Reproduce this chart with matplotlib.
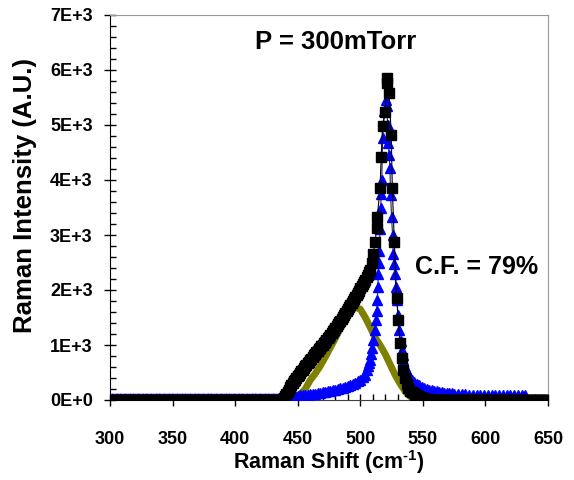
import numpy as np
import matplotlib
matplotlib.use('Agg')
import matplotlib.pyplot as plt
from matplotlib.ticker import MultipleLocator

plt.rcParams['font.family'] = ['Liberation Sans', 'DejaVu Sans']
plt.rcParams['font.weight'] = 'bold'
plt.rcParams['mathtext.fontset'] = 'custom'
plt.rcParams['mathtext.bf'] = 'Liberation Sans:bold'
plt.rcParams['mathtext.rm'] = 'Liberation Sans:bold'

# measured spectrum (black squares), peak region
meas_x = [438, 439, 440, 441, 442, 443, 444, 445, 446, 447, 448, 449, 450, 451, 452,
          453, 454, 455, 456, 457, 458, 459, 460, 461, 462, 463, 464, 465, 466, 467,
          468, 469, 470, 471, 472, 473, 474, 475, 476, 477, 478, 479, 480, 481, 482,
          483, 484, 485, 486, 487, 488, 489, 490, 491, 492, 493, 494, 495, 496, 497,
          498, 499, 500, 501, 502, 503, 504, 505, 506, 507, 508, 509.1, 510.4,
          511.8, 513.1, 513.6, 515.8, 516.7, 517.8, 520.0, 521.0, 521.5,
          523.1, 524.7, 525.6, 527.2, 529.1, 530.5, 531.7, 533.1, 534.4, 535.8,
          537.1, 538.5, 540, 541.3, 542.6, 543.9, 545.2, 546.5, 547.8, 549.1, 550.4,
          551.7, 553, 554.3, 555.6]
meas_y = [0, 30, 70, 110, 150, 190, 230, 270, 310, 340, 370, 400, 430, 460, 490,
          520, 550, 580, 610, 640, 665, 695, 720, 750, 780, 810, 835, 865, 890, 920,
          945, 975, 1000, 1030, 1060, 1090, 1120, 1150, 1185, 1215, 1250, 1280, 1310, 1345, 1375,
          1410, 1440, 1475, 1510, 1545, 1580, 1615, 1650, 1690, 1725, 1760, 1800, 1835, 1870, 1910,
          1950, 1990, 2030, 2070, 2110, 2150, 2190, 2230, 2270, 2320, 2360, 2490, 2650,
          2880, 3120, 3330, 3850, 4420, 4990, 5240, 5760, 5850,
          5580, 4820, 3850, 2870, 1850, 1450, 1030, 760, 545, 400,
          300, 210, 160, 140, 120, 100, 82, 66, 52, 40, 32,
          25, 18, 12, 8]
# flat baseline of the measured spectrum
base_left_x = np.arange(300, 437, 1.3)
base_right_x = np.arange(557, 651, 1.3)
base_left_y = [0] * len(base_left_x)
base_right_y = [0] * len(base_right_x)

# crystalline component (blue triangles)
cryst_x = [440, 442, 444, 446, 448, 450, 452, 454, 456, 458, 460, 462, 464, 466, 468,
           470, 472, 474, 476, 478, 480, 482, 484, 486, 488, 490, 492, 494, 496, 498,
           500, 502, 503.5, 505, 506, 507, 507.8, 508.6, 509.4, 510.4, 511.5, 512.6,
           513.1, 513.6, 514.0, 514.4, 514.8, 515.2, 515.8, 516.3, 516.8, 517.2, 517.8,
           518.5, 519.3, 520.3, 521.2, 521.8, 522.4, 523.1, 523.7, 524.2, 525, 525.8,
           526.3, 527, 527.7, 528.4, 529.1, 530.1, 531.2, 532.2, 533.1, 533.8, 534.4,
           535.7, 537, 538.5, 540, 541.5, 543, 545, 547, 549, 551, 553, 555, 557, 559,
           561, 563, 565, 567, 569, 571, 573, 575, 578, 581, 584, 587, 590, 593, 596,
           599, 602, 605, 608, 611, 614, 617, 620, 623, 626, 629, 632]
cryst_y = [60, 65, 68, 72, 76, 80, 85, 90, 95, 100, 105, 112, 118, 125, 132,
           140, 148, 157, 166, 176, 187, 198, 210, 222, 236, 250, 266, 285, 310, 340,
           370, 410, 460, 540, 610, 680, 730, 830, 950, 1090, 1270, 1450,
           1620, 1820, 2050, 2300, 2500, 2700, 3100, 3490, 3750, 4000, 4760,
           5000, 5250, 5450, 5350, 5000, 4670, 4450, 4220, 3730, 3330, 3000,
           2650, 2480, 2300, 2050, 1820, 1550, 1270, 1080, 910, 810, 730,
           600, 520, 460, 400, 360, 330, 290, 265, 240, 220, 200, 185, 175, 165,
           157, 148, 140, 135, 130, 125, 120, 116, 112, 108, 104, 100, 98, 96, 95,
           94, 93, 92, 91, 91, 90, 90, 90, 90, 90, 90, 90]
cryst_base_x = np.arange(300, 440, 1.3)
cryst_base_y = [55] * len(cryst_base_x)

# amorphous component (olive)
amor_x = [440, 444, 448, 452, 456, 460, 464, 468, 472, 476, 480, 484, 488, 492,
          496, 500, 504, 508, 512, 516, 520, 524, 528, 532, 536, 540]
amor_y = [30, 50, 70, 100, 200, 360, 480, 620, 780, 950, 1120, 1300, 1450, 1600,
          1690, 1650, 1500, 1320, 1130, 990, 830, 640, 450, 290, 150, 60]

x_ticks = [300, 350, 400, 450, 500, 550, 600, 650]
y_ticks = [0, 1000, 2000, 3000, 4000, 5000, 6000, 7000]
y_tick_labels = ['0E+0', '1E+3', '2E+3', '3E+3', '4E+3', '5E+3', '6E+3', '7E+3']

fig = plt.figure(figsize=(5.74, 4.8), dpi=100)
ax = fig.add_axes([110/574, 1 - 400/480, 438/574, 385/480])

ax.plot(amor_x, amor_y, color='#808000', lw=5, solid_capstyle='round', zorder=2)

ax.plot(cryst_base_x, cryst_base_y, color='#0000ff', marker='^', ms=6, lw=0.8,
        markeredgewidth=0, zorder=3)
ax.plot(cryst_x, cryst_y, color='#202060', marker='^', ms=6.5, lw=0.8,
        markerfacecolor='#0000ff', markeredgecolor='#0000ff', zorder=3)

for bx, by in [(base_left_x, base_left_y), (base_right_x, base_right_y)]:
    ax.plot(bx, by, color='black', marker='s', ms=6.5, lw=0.8, zorder=4)
ax.plot(meas_x, meas_y, color='black', marker='s', ms=6.5, lw=0.8, zorder=4)

ax.set_xlim(300, 650)
ax.set_ylim(0, 7000)
ax.set_xticks(x_ticks)
ax.set_yticks(y_ticks)
ax.set_yticklabels(y_tick_labels)
ax.xaxis.set_minor_locator(MultipleLocator(10))
ax.yaxis.set_minor_locator(MultipleLocator(200))
ax.tick_params(which='major', direction='inout', length=9, width=1, labelsize=13)
ax.tick_params(which='minor', direction='in', length=4, width=1)
ax.tick_params(axis='x', which='major', pad=18)
ax.tick_params(axis='y', which='major', pad=8)

for side in ['top', 'right']:
    ax.spines[side].set_color('#999999')
ax.spines['left'].set_color('black')
ax.spines['bottom'].set_color('#404040')

ax.set_xlabel('Raman Shift (cm$^{\\text{-1}}$)', fontsize=15.5, fontweight='bold')
ax.set_ylabel('Raman Intensity (A.U.)', fontsize=18.5, fontweight='bold')
ax.xaxis.set_label_coords(0.5, -0.125)
ax.yaxis.set_label_coords(-0.167, 0.53)

ax.text(480, 6500, 'P = 300mTorr', fontsize=18.5, fontweight='bold', ha='center', va='center')
ax.text(593, 2420, 'C.F. = 79%', fontsize=18, fontweight='bold', ha='center', va='center')

fig.savefig('out.png', dpi=100)
